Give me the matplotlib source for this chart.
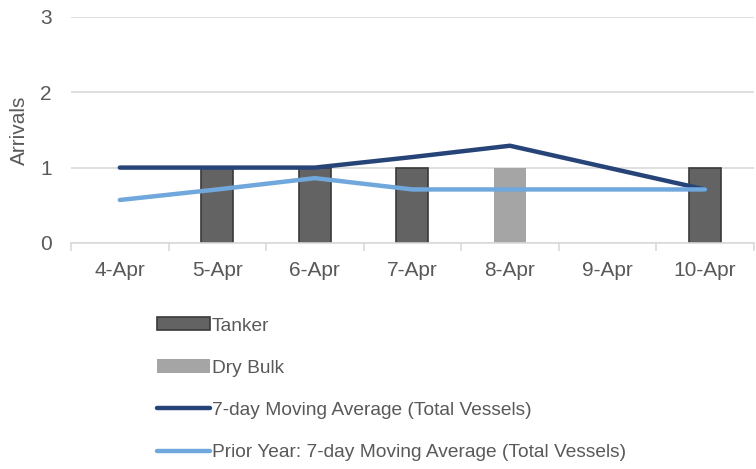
import matplotlib
matplotlib.use('Agg')
import matplotlib.pyplot as plt
import numpy as np

days = ["4-Apr", "5-Apr", "6-Apr", "7-Apr", "8-Apr", "9-Apr", "10-Apr"]
tanker = [0, 1, 1, 1, 0, 0, 1]
dry_bulk = [0, 0, 0, 0, 1, 0, 0]
ma_7day = [1.0, 1.0, 1.0, 1.14, 1.29, 1.0, 0.71]
ma_prior = [0.57, 0.71, 0.86, 0.71, 0.71, 0.71, 0.71]

text_col = '#595959'
plt.rcParams['font.family'] = ['Liberation Sans', 'DejaVu Sans']

fig = plt.figure(figsize=(7.56, 4.69), dpi=100)
ax = fig.add_axes([0.094, 0.482, 0.903, 0.482])

x = np.arange(len(days))
# zero days are left empty so no flat edge line is drawn
tank_h = np.where(np.array(tanker) > 0, tanker, np.nan)
dry_h = np.where(np.array(dry_bulk) > 0, dry_bulk, np.nan)

b1 = ax.bar(x, tank_h, width=0.33, color='#636363', edgecolor='#3a3a3a',
            linewidth=1.2, label='Tanker', zorder=2)
b2 = ax.bar(x, dry_h, width=0.33, bottom=tanker, color='#a5a5a5',
            label='Dry Bulk', zorder=2)
l1, = ax.plot(x, ma_7day, color='#264478', linewidth=3.2,
              solid_capstyle='round', solid_joinstyle='round',
              label='7-day Moving Average (Total Vessels)', zorder=3)
l2, = ax.plot(x, ma_prior, color='#70a7dc', linewidth=3.2,
              solid_capstyle='round', solid_joinstyle='round',
              label='Prior Year: 7-day Moving Average (Total Vessels)', zorder=3)

ax.set_xlim(-0.5, len(days) - 0.5)
ax.set_ylim(0, 3)
ax.set_yticks([0, 1, 2, 3])
ax.yaxis.grid(True, color='#d9d9d9', linewidth=1.2, zorder=0)
ax.set_axisbelow(True)
for s in ['top', 'right', 'left']:
    ax.spines[s].set_visible(False)
ax.spines['bottom'].set_color('#d9d9d9')
ax.spines['bottom'].set_linewidth(1.2)

ax.set_xticks(x)
ax.set_xticklabels(days)
ax.set_xticks(np.arange(-0.5, len(days)), minor=True)
ax.tick_params(axis='x', which='major', length=0, pad=13,
               labelsize=15, labelcolor=text_col)
ax.tick_params(axis='x', which='minor', length=6, color='#d9d9d9', width=1.2)
ax.tick_params(axis='y', length=0, pad=14, labelsize=15, labelcolor=text_col)
ax.set_ylabel('Arrivals', fontsize=15, color=text_col, labelpad=8)

fig.legend(handles=[b1, b2, l1, l2], loc='upper left',
           bbox_to_anchor=(0.198, 0.34), frameon=False, ncol=1,
           fontsize=13.8, labelcolor=text_col, handlelength=2.75,
           handleheight=0.68, handletextpad=0.1, labelspacing=1.3,
           borderaxespad=0)

fig.savefig('out.png', dpi=100)
